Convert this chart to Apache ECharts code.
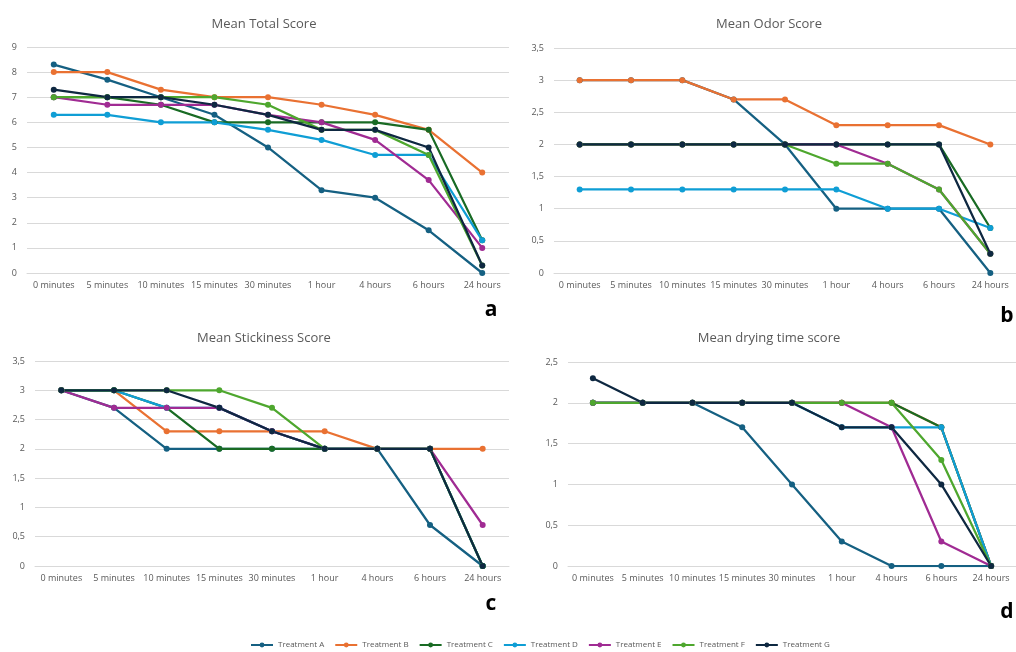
<!DOCTYPE html>
<html>
<head>
<meta charset="utf-8">
<script src="https://cdn.jsdelivr.net/npm/echarts@6/dist/echarts.min.js"></script>
<style>
html,body{margin:0;padding:0;background:#fff;}
#chart{width:1016px;height:652px;}
</style>
</head>
<body>
<div id="chart"></div>
<script>
const categories = ['0 minutes','5 minutes','10 minutes','15 minutes','30 minutes','1 hour','4 hours','6 hours','24 hours'];
const treatments = ['Treatment A','Treatment B','Treatment C','Treatment D','Treatment E','Treatment F','Treatment G'];
const colors = ['#156082','#E97132','#196B24','#0F9ED5','#A02B93','#4EA72E','#0E2841'];

const panelTitles = ['Mean Total Score','Mean Odor Score','Mean Stickiness Score','Mean drying time score'];
const panelLetters = ['a','b','c','d'];
const yMax = [9, 3.5, 3.5, 2.5];
const yInterval = [1, 0.5, 0.5, 0.5];

// Mean Total Score
const totalA = [8.3, 7.7, 7.0, 6.3, 5.0, 3.3, 3.0, 1.7, 0];
const totalB = [8, 8, 7.3, 7, 7, 6.7, 6.3, 5.7, 4];
const totalC = [7, 7, 6.7, 6, 6, 6, 6, 5.7, 1.3];
const totalD = [6.3, 6.3, 6, 6, 5.7, 5.3, 4.7, 4.7, 1.3];
const totalE = [7, 6.7, 6.7, 6.7, 6.3, 6, 5.3, 3.7, 1];
const totalF = [7, 7, 7, 7, 6.7, 5.7, 5.7, 4.7, 0.3];
const totalG = [7.3, 7, 7, 6.7, 6.3, 5.7, 5.7, 5, 0.3];

// Mean Odor Score
const odorA = [3, 3, 3, 2.7, 2, 1, 1, 1, 0];
const odorB = [3, 3, 3, 2.7, 2.7, 2.3, 2.3, 2.3, 2];
const odorC = [2, 2, 2, 2, 2, 2, 2, 2, 0.7];
const odorD = [1.3, 1.3, 1.3, 1.3, 1.3, 1.3, 1, 1, 0.7];
const odorE = [2, 2, 2, 2, 2, 2, 1.7, 1.3, 0.3];
const odorF = [2, 2, 2, 2, 2, 1.7, 1.7, 1.3, 0.3];
const odorG = [2, 2, 2, 2, 2, 2, 2, 2, 0.3];

// Mean Stickiness Score
const stickA = [3, 2.7, 2, 2, 2, 2, 2, 0.7, 0];
const stickB = [3, 3, 2.3, 2.3, 2.3, 2.3, 2, 2, 2];
const stickC = [3, 3, 2.7, 2, 2, 2, 2, 2, 0];
const stickD = [3, 3, 2.7, 2.7, 2.3, 2, 2, 2, 0];
const stickE = [3, 2.7, 2.7, 2.7, 2.3, 2, 2, 2, 0.7];
const stickF = [3, 3, 3, 3, 2.7, 2, 2, 2, 0];
const stickG = [3, 3, 3, 2.7, 2.3, 2, 2, 2, 0];

// Mean drying time score
const dryA = [2, 2, 2, 1.7, 1, 0.3, 0, 0, 0];
const dryB = [2, 2, 2, 2, 2, 2, 2, 1.7, 0];
const dryC = [2, 2, 2, 2, 2, 2, 2, 1.7, 0];
const dryD = [2, 2, 2, 2, 2, 1.7, 1.7, 1.7, 0];
const dryE = [2, 2, 2, 2, 2, 2, 1.7, 0.3, 0];
const dryF = [2, 2, 2, 2, 2, 2, 2, 1.3, 0];
const dryG = [2.3, 2, 2, 2, 2, 1.7, 1.7, 1, 0];

const panelData = [
  [totalA, totalB, totalC, totalD, totalE, totalF, totalG],
  [odorA, odorB, odorC, odorD, odorE, odorF, odorG],
  [stickA, stickB, stickC, stickD, stickE, stickF, stickG],
  [dryA, dryB, dryC, dryD, dryE, dryF, dryG]
];

// layout
const grids = [
  {left: 27, top: 47, width: 482, height: 226},
  {left: 554, top: 48, width: 475, height: 225},
  {left: 35, top: 361, width: 474, height: 205},
  {left: 568, top: 362, width: 457, height: 204}
];
const titlePos = [[264, 24], [769, 24], [264, 338], [769, 338]];
const letterPos = [[491, 310], [1007, 316], [491, 604], [1007, 612]];

const FONT = '"Open Sans", "Noto Sans", sans-serif';
const GRAY = '#595959';
const fmt = v => String(v).replace('.', ',');

const xAxes = [], yAxes = [], series = [], graphics = [];
for (let p = 0; p < 4; p++) {
  xAxes.push({
    type: 'category', gridIndex: p, data: categories, boundaryGap: true,
    axisLine: {show: true, lineStyle: {color: '#d9d9d9', width: 1}},
    axisTick: {show: false},
    axisLabel: {interval: 0, color: GRAY, fontSize: 9, fontFamily: FONT, margin: 8}
  });
  yAxes.push({
    type: 'value', gridIndex: p, min: 0, max: yMax[p], interval: yInterval[p],
    axisLine: {show: false}, axisTick: {show: false},
    splitLine: {show: true, lineStyle: {color: '#d9d9d9', width: 1}},
    axisLabel: {color: GRAY, fontSize: 9, fontFamily: FONT, margin: 10, formatter: fmt}
  });
  for (let s = 0; s < 7; s++) {
    series.push({
      type: 'line', name: treatments[s], xAxisIndex: p, yAxisIndex: p,
      data: panelData[p][s], color: colors[s],
      symbol: 'circle', symbolSize: 6, showSymbol: true,
      lineStyle: {width: 2.25, color: colors[s]},
      itemStyle: {color: colors[s]},
      animation: false
    });
  }
  graphics.push({
    type: 'text', x: titlePos[p][0], y: titlePos[p][1],
    style: {text: panelTitles[p], fill: GRAY, font: '13px ' + FONT, textAlign: 'center', textVerticalAlign: 'middle'}
  });
  graphics.push({
    type: 'text', x: letterPos[p][0], y: letterPos[p][1],
    style: {text: panelLetters[p], fill: '#000', font: 'bold 21px ' + FONT, textAlign: 'center', textVerticalAlign: 'middle'}
  });
}

const chart = echarts.init(document.getElementById('chart'), null, {renderer: 'canvas'});
chart.setOption({
  animation: false,
  backgroundColor: '#ffffff',
  grid: grids,
  xAxis: xAxes,
  yAxis: yAxes,
  series: series,
  graphic: graphics,
  legend: {
    data: treatments, top: 636, left: 245,
    itemWidth: 22, itemHeight: 6, itemGap: 10,
    textStyle: {color: GRAY, fontSize: 8, fontFamily: FONT}
  }
});
</script>
</body>
</html>
